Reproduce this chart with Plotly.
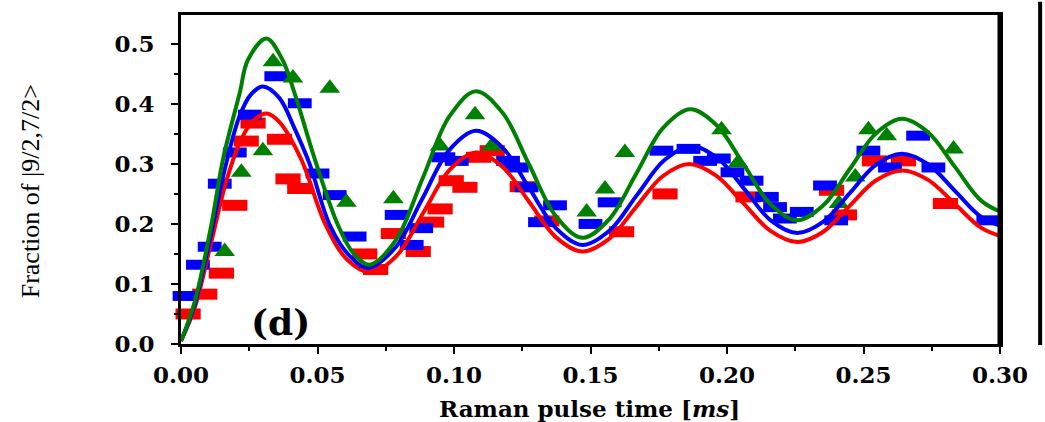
import plotly.graph_objects as go

# ---------------- measured data points ----------------
red_t = [0.0026, 0.0087, 0.0148, 0.0197, 0.0239, 0.0264, 0.0361, 0.0392, 0.0435,
         0.0673, 0.0713, 0.0778, 0.0869, 0.0918, 0.0949, 0.0990, 0.1040, 0.1090,
         0.1140, 0.1250, 0.1340, 0.1614, 0.1773, 0.2077, 0.2383, 0.2430, 0.2540,
         0.2646, 0.2800]
red_y = [0.050, 0.083, 0.118, 0.231, 0.338, 0.368, 0.341, 0.275, 0.259,
         0.150, 0.124, 0.184, 0.154, 0.203, 0.225, 0.272, 0.261, 0.311,
         0.322, 0.262, 0.205, 0.187, 0.250, 0.245, 0.256, 0.215, 0.305,
         0.305, 0.234]

blue_t = [0.0013, 0.0062, 0.0105, 0.0142, 0.0197, 0.0252, 0.0349, 0.0435, 0.0500,
          0.0563, 0.0636, 0.0790, 0.0845, 0.0880, 0.0961, 0.1010, 0.1198, 0.1230,
          0.1266, 0.1315, 0.1370, 0.1500, 0.1570, 0.1760, 0.1859, 0.1920, 0.1970,
          0.2020, 0.2090, 0.2146, 0.2176, 0.2212, 0.2274, 0.2359, 0.2400, 0.2518,
          0.2597, 0.2700, 0.2756, 0.2957]
blue_y = [0.080, 0.132, 0.162, 0.267, 0.319, 0.382, 0.446, 0.401, 0.284,
          0.248, 0.179, 0.215, 0.165, 0.193, 0.311, 0.305, 0.305, 0.294,
          0.261, 0.203, 0.231, 0.200, 0.236, 0.322, 0.325, 0.305, 0.309,
          0.286, 0.272, 0.245, 0.228, 0.209, 0.220, 0.264, 0.206, 0.322,
          0.294, 0.347, 0.294, 0.206]

green_t = [0.0160, 0.0221, 0.0300, 0.0337, 0.0410, 0.0545, 0.0606, 0.0778, 0.0949,
           0.1077, 0.1138, 0.1486, 0.1553, 0.1626, 0.1980, 0.2040, 0.2410, 0.2470,
           0.2518, 0.2585, 0.2830]
green_y = [0.154, 0.286, 0.322, 0.470, 0.443, 0.426, 0.236, 0.242, 0.330,
           0.382, 0.330, 0.220, 0.258, 0.319, 0.357, 0.302, 0.234, 0.278,
           0.357, 0.347, 0.325]

# ---------------- fitted curves ----------------
fit_green_t = [0, 0.005, 0.0111, 0.0154, 0.0215, 0.0245, 0.0313, 0.037, 0.0416, 0.049,
               0.0575, 0.063, 0.0691, 0.0788, 0.0886, 0.0983, 0.108, 0.1178, 0.1275,
               0.1373, 0.147, 0.1569, 0.1668, 0.1766, 0.1865, 0.1963, 0.2061, 0.2159,
               0.2257, 0.2353, 0.2449, 0.2544, 0.264, 0.2738, 0.2835, 0.2933, 0.303]
fit_green_y = [0.005, 0.070, 0.198, 0.308, 0.418, 0.473, 0.509, 0.475, 0.418, 0.308,
               0.198, 0.152, 0.132, 0.174, 0.277, 0.379, 0.421, 0.385, 0.299,
               0.213, 0.177, 0.208, 0.284, 0.360, 0.391, 0.364, 0.299, 0.233,
               0.206, 0.231, 0.291, 0.350, 0.375, 0.352, 0.295, 0.238, 0.215]

fit_blue_t = [0, 0.005, 0.0111, 0.0165, 0.0215, 0.0255, 0.030, 0.036, 0.0415, 0.0471,
              0.0545, 0.0615, 0.0685, 0.0784, 0.0883, 0.0981, 0.108, 0.1178, 0.1275,
              0.1373, 0.147, 0.157, 0.167, 0.177, 0.187, 0.1967, 0.2064, 0.216,
              0.2257, 0.2353, 0.2449, 0.2544, 0.264, 0.2738, 0.2835, 0.2933, 0.303]
fit_blue_y = [0.005, 0.065, 0.185, 0.300, 0.380, 0.415, 0.429, 0.410, 0.360, 0.300,
              0.198, 0.148, 0.127, 0.160, 0.241, 0.322, 0.355, 0.327, 0.260,
              0.193, 0.165, 0.189, 0.248, 0.306, 0.330, 0.309, 0.258, 0.206,
              0.185, 0.204, 0.251, 0.298, 0.317, 0.299, 0.255, 0.211, 0.193]

fit_red_t = [0, 0.005, 0.0111, 0.0165, 0.0215, 0.026, 0.0313, 0.036, 0.044, 0.053,
             0.061, 0.0696, 0.0792, 0.0888, 0.0984, 0.108, 0.1178, 0.1275, 0.1373,
             0.147, 0.1568, 0.1665, 0.1763, 0.186, 0.1959, 0.2059, 0.2158, 0.2257,
             0.2353, 0.2449, 0.2544, 0.264, 0.2738, 0.2835, 0.2933, 0.303]
fit_red_y = [0.005, 0.060, 0.170, 0.270, 0.335, 0.370, 0.384, 0.370, 0.308, 0.198,
             0.140, 0.119, 0.148, 0.219, 0.290, 0.319, 0.295, 0.237, 0.178,
             0.154, 0.175, 0.227, 0.279, 0.300, 0.281, 0.235, 0.189, 0.170,
             0.187, 0.230, 0.272, 0.289, 0.273, 0.233, 0.193, 0.176]

x_ticks = [0.00, 0.05, 0.10, 0.15, 0.20, 0.25, 0.30]
x_ticklabels = ["0.00", "0.05", "0.10", "0.15", "0.20", "0.25", "0.30"]
y_ticks = [0.0, 0.1, 0.2, 0.3, 0.4, 0.5]
y_ticklabels = ["0.0", "0.1", "0.2", "0.3", "0.4", "0.5"]

RED, BLUE, GREEN = "#FF0000", "#0000FF", "#008000"
TICKFONT = dict(family="DejaVu Serif", size=23, color="black", weight="bold")

fig = go.Figure()

# markers
fig.add_trace(go.Scatter(x=red_t, y=red_y, mode="markers", cliponaxis=False,
                         marker=dict(symbol="line-ew", size=18, color=RED,
                                     line=dict(color=RED, width=11))))
fig.add_trace(go.Scatter(x=blue_t, y=blue_y, mode="markers", cliponaxis=False,
                         marker=dict(symbol="line-ew", size=17, color=BLUE,
                                     line=dict(color=BLUE, width=10))))
fig.add_trace(go.Scatter(x=green_t, y=green_y, mode="markers", cliponaxis=False,
                         marker=dict(symbol="triangle-up", size=18, color=GREEN,
                                     line=dict(width=0))))

# fitted curves
for tt, yy, c in [(fit_red_t, fit_red_y, RED), (fit_blue_t, fit_blue_y, BLUE),
                  (fit_green_t, fit_green_y, GREEN)]:
    fig.add_trace(go.Scatter(x=tt, y=yy, mode="lines",
                             line=dict(color=c, width=4, shape="spline", smoothing=1)))

fig.update_layout(
    width=1045, height=422,
    margin=dict(l=181, r=45, t=13, b=78),
    paper_bgcolor="white", plot_bgcolor="white",
    showlegend=False,
    xaxis=dict(range=[0, 0.30], showgrid=False, zeroline=False,
               showline=True, linecolor="black", linewidth=3, mirror=True,
               ticks="outside", ticklen=7, tickwidth=2, tickcolor="black",
               tickvals=x_ticks, ticktext=x_ticklabels, tickfont=TICKFONT,
               ticklabelstandoff=1,
               minor=dict(dtick=0.025, ticks="outside", ticklen=4, tickwidth=2,
                          tickcolor="black", showgrid=False)),
    yaxis=dict(range=[0, 0.548], showgrid=False, zeroline=False,
               showline=True, linecolor="black", linewidth=3, mirror=True,
               ticks="outside", ticklen=7, tickwidth=2, tickcolor="black",
               tickvals=y_ticks, ticktext=y_ticklabels, tickfont=TICKFONT,
               ticklabelstandoff=12,
               minor=dict(dtick=0.05, ticks="outside", ticklen=4, tickwidth=2,
                          tickcolor="black", showgrid=False)),
)

fig.add_annotation(text="<b>Raman pulse time [<i>ms</i>]</b>", xref="paper", yref="paper",
                   x=0.499, y=-0.195, xanchor="center", yanchor="middle", showarrow=False,
                   font=dict(family="DejaVu Serif", size=23, color="black"))
fig.add_annotation(text="Fraction of |9/2,7/2&gt;", xref="paper", yref="paper",
                   x=-0.184, y=0.465, xanchor="center", yanchor="middle", showarrow=False,
                   textangle=-90,
                   font=dict(family="Liberation Serif", size=26, color="black"))
fig.add_annotation(text="<b>(d)</b>", xref="paper", yref="paper",
                   x=0.122, y=0.068, xanchor="center", yanchor="middle", showarrow=False,
                   font=dict(family="DejaVu Serif", size=36, color="black"))

# thicker right frame edge and neighbouring panel edge
fig.add_shape(type="line", xref="paper", yref="paper", x0=1.0, x1=1.0, y0=0, y1=1,
              line=dict(color="black", width=5))
fig.add_shape(type="line", xref="paper", yref="paper", x0=1.049, x1=1.049, y0=-0.003, y1=1.04,
              line=dict(color="black", width=4))

fig.write_html("out.html")
